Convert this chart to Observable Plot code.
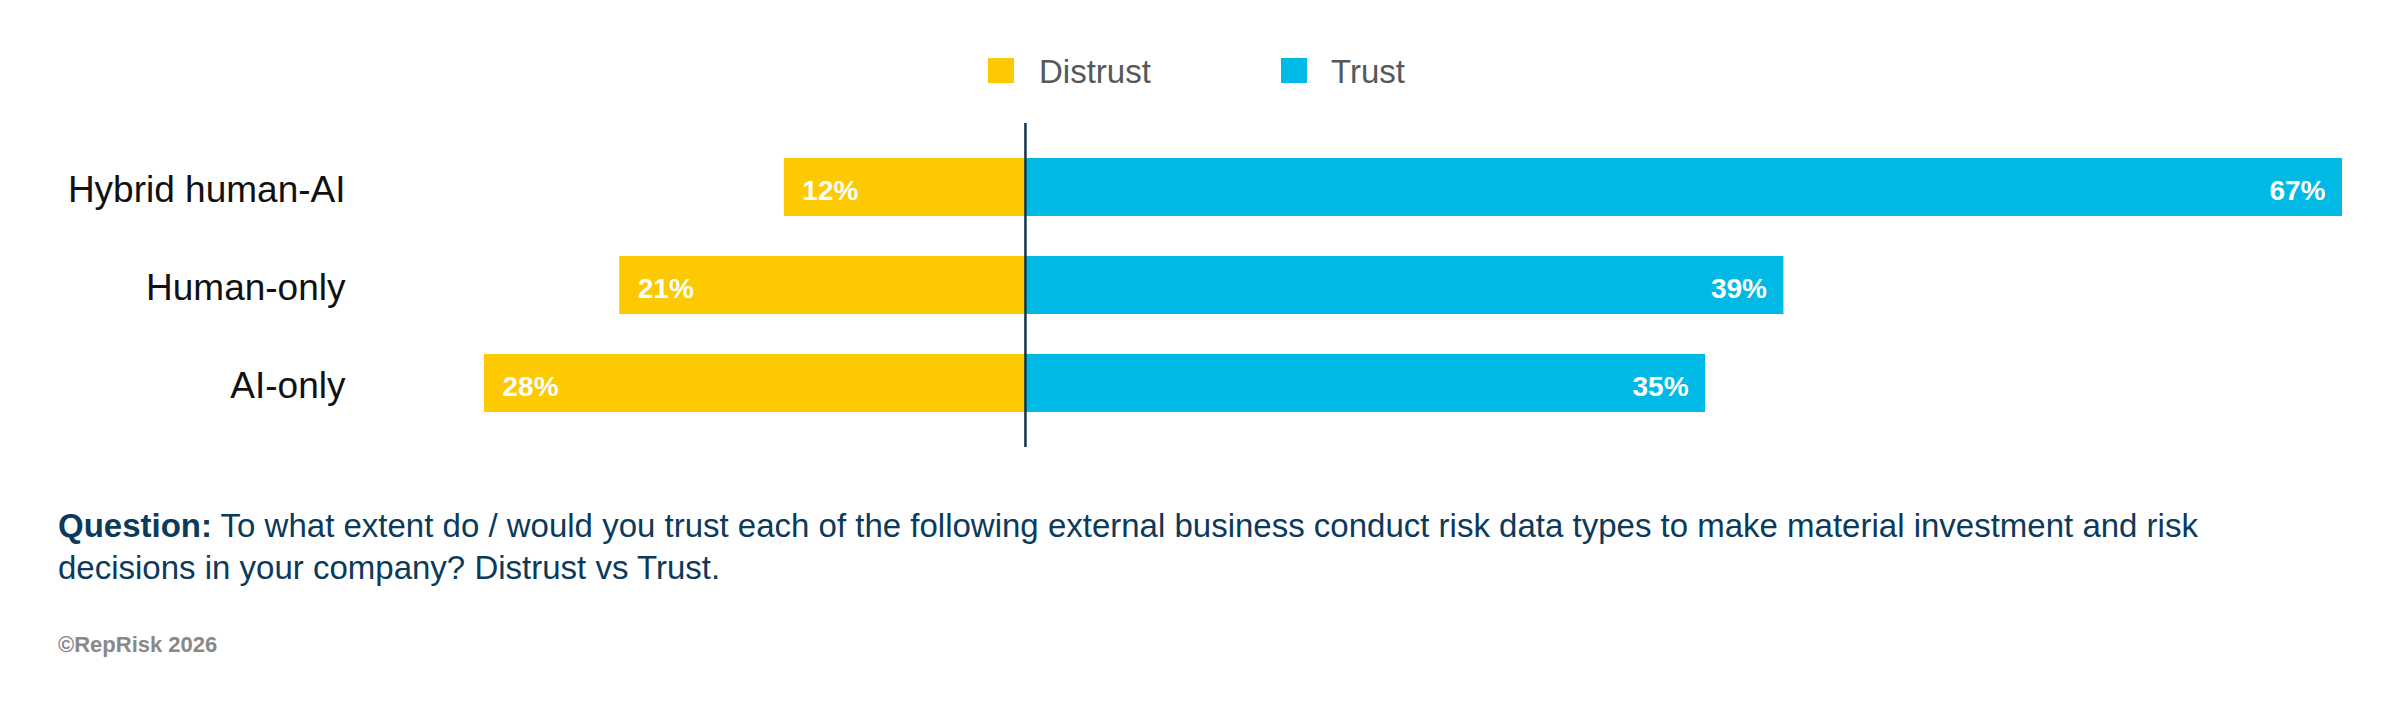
<!DOCTYPE html>
<html>
<head>
<meta charset="utf-8">
<script src="https://cdn.jsdelivr.net/npm/d3@7"></script>
<script src="https://cdn.jsdelivr.net/npm/@observablehq/plot@0.6"></script>
<style>
  html, body { margin: 0; padding: 0; background: #fff; }
  body { font-family: "Liberation Sans", Arial, sans-serif; }
  #page { position: relative; width: 2400px; height: 712px; overflow: hidden; background: #fff; }
  .sw { position: absolute; width: 26px; height: 25px; }
  .lg { position: absolute; font-size: 33px; line-height: 34px; color: #55595c; white-space: nowrap; }
  #chart { position: absolute; left: 0; top: 110px; }
  #question { position: absolute; left: 58px; top: 505px; font-size: 33px; line-height: 42px; color: #0b3a5b; white-space: nowrap; }
  #question b { font-weight: bold; }
  #copy { position: absolute; left: 58px; top: 633px; font-size: 22px; line-height: 23px; font-weight: bold; color: #888; white-space: nowrap; }
</style>
</head>
<body>
<div id="page">
  <div id="legend"></div>
  <div id="chart"></div>
  <div id="question"><b>Question:</b> To what extent do / would you trust each of the following external business conduct risk data types to make material investment and risk<br>decisions in your company? Distrust vs Trust.</div>
  <div id="copy">©RepRisk 2026</div>
</div>
<script>
// ---- data ----
const categories = ["Hybrid human-AI", "Human-only", "AI-only"];
const distrust = [12.3, 20.7, 27.6];
const trust = [67.2, 38.7, 34.7];
const seriesNames = ["Distrust", "Trust"];

// ---- styles ----
const seriesColors = ["#fdc900", "#00b9e4"];

const rows = categories.map((c, i) => ({category: c, distrust: distrust[i], trust: trust[i]}));

// legend (HTML, above the SVG)
const legend = document.getElementById("legend");
const legendPos = [{sx: 988, tx: 1039}, {sx: 1281, tx: 1331}];
seriesNames.forEach((name, i) => {
  const sw = document.createElement("div");
  sw.className = "sw";
  sw.style.left = legendPos[i].sx + "px";
  sw.style.top = "58px";
  sw.style.background = seriesColors[i];
  legend.appendChild(sw);
  const t = document.createElement("div");
  t.className = "lg";
  t.style.left = legendPos[i].tx + "px";
  t.style.top = "55px";
  t.textContent = name;
  legend.appendChild(t);
});

const chart = Plot.plot({
  width: 2400,
  height: 350,
  marginLeft: 484,
  marginRight: 58,
  marginTop: 13,
  marginBottom: 13,
  style: {fontFamily: "'Liberation Sans', Arial, sans-serif", background: "#fff", color: "#111"},
  x: {domain: [-distrust[2], trust[0]], axis: null},
  y: {domain: categories, range: [47, 303], paddingInner: 0.406, paddingOuter: 0, label: null},
  marks: [
    Plot.barX(rows, {y: "category", x1: d => 0, x2: d => -d.distrust, fill: seriesColors[0]}),
    Plot.barX(rows, {y: "category", x1: d => 0, x2: d => d.trust, fill: seriesColors[1]}),
    Plot.ruleX([0], {stroke: "#0d3550", strokeWidth: 2.5}),
    Plot.axisY({tickSize: 0, tickPadding: 139, fontSize: 37, dy: 3, label: null}),
    Plot.text(rows, {y: "category", x: d => -d.distrust, text: d => Math.round(d.distrust) + "%",
      textAnchor: "start", dx: 18, dy: 4, fill: "#fff", fontWeight: "bold", fontSize: 28}),
    Plot.text(rows, {y: "category", x: d => d.trust, text: d => Math.round(d.trust) + "%",
      textAnchor: "end", dx: -17, dy: 4, fill: "#fff", fontWeight: "bold", fontSize: 28})
  ]
});
document.getElementById("chart").appendChild(chart);
</script>
</body>
</html>
